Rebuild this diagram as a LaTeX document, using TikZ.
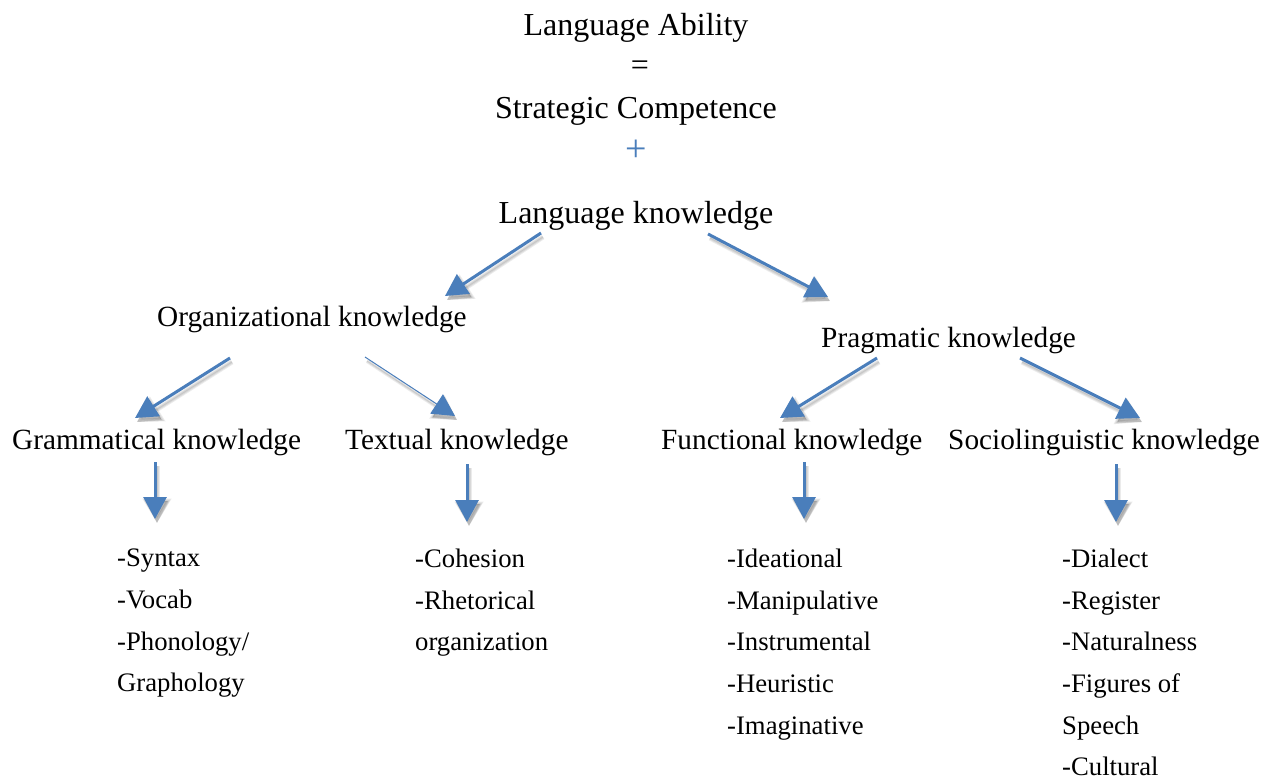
\documentclass[tikz,border=0pt]{standalone}
\usepackage{fontspec}
\setmainfont{Liberation Serif}
\usetikzlibrary{arrows.meta}
\definecolor{arrowblue}{HTML}{4A7EBB}
\begin{document}
\begin{tikzpicture}[x=1pt,y=-1pt,
  toptext/.style={anchor=base,inner sep=0pt,font=\fontsize{32}{36}\selectfont},
  midtext/.style={anchor=base west,inner sep=0pt,font=\fontsize{29.3}{34}\selectfont},
  listtext/.style={anchor=north west,inner sep=0pt,align=left,font=\fontsize{26.7}{41.6}\selectfont},
  shadowlayer/.style={draw=black,opacity=0.08,line width=#1,
      -{Triangle[width=23pt+#1,length=22pt+0.5*#1]},
      transform canvas={shift={(2pt,-4pt)}}},
  bluearrow/.style={draw=arrowblue,line width=3pt,-{Triangle[width=23pt,length=22pt]},
    preaction={shadowlayer=1pt},preaction={shadowlayer=3pt},preaction={shadowlayer=5pt}},
  thinarrow/.style={draw=arrowblue,line width=1pt,-{Triangle[width=23pt,length=22pt]},
    preaction={shadowlayer=0.5pt},preaction={shadowlayer=2pt},preaction={shadowlayer=4pt}}
]
\useasboundingbox (0,0) rectangle (1271,779);
\fill[white] (0,0) rectangle (1271,779);

\node[toptext] (ability) at (636,35) {Language Ability};
\node[toptext] (eq) at (640,75) {=};
\node[toptext] (strat) at (636,118) {Strategic Competence};
\node[toptext,text=arrowblue] (plus) at (636,161) {\fontsize{38}{40}\selectfont +};
\node[toptext] (lk) at (636,223) {Language knowledge};

\node[midtext] (org) at (157,326) {Organizational knowledge};
\node[midtext] (prag) at (821,347) {Pragmatic knowledge};

\node[midtext] (gram) at (12,449) {Grammatical knowledge};
\node[midtext] (text) at (345,449) {Textual knowledge};
\node[midtext] (func) at (661,449) {Functional knowledge};
\node[midtext] (socio) at (948,449) {Sociolinguistic knowledge};

\node[listtext] (gl) at (117,549) {-Syntax\\-Vocab\\-Phonology/\\Graphology};
\node[listtext] (tl) at (415,549) {-Cohesion\\-Rhetorical\\organization};
\node[listtext] (fl) at (727,549) {-Ideational\\-Manipulative\\-Instrumental\\-Heuristic\\-Imaginative};
\node[listtext] (sl) at (1062,549) {-Dialect\\-Register\\-Naturalness\\-Figures of\\Speech\\-Cultural};

\coordinate (a1s) at (541,233); \coordinate (a1e) at (445,296);
\coordinate (a2s) at (708,234); \coordinate (a2e) at (828,297);
\coordinate (a3s) at (230,358); \coordinate (a3e) at (135,418);
\coordinate (a4s) at (365,357); \coordinate (a4e) at (455,416);
\coordinate (a5s) at (877,358); \coordinate (a5e) at (780,418);
\coordinate (a6s) at (1020,358); \coordinate (a6e) at (1140,418);
\coordinate (v1s) at (155,462); \coordinate (v1e) at (155,519);
\coordinate (v2s) at (467,464); \coordinate (v2e) at (467,522);
\coordinate (v3s) at (804,462); \coordinate (v3e) at (804,519);
\coordinate (v4s) at (1116,464); \coordinate (v4e) at (1116,522);

\draw[bluearrow] (a1s) -- (a1e);
\draw[bluearrow] (a2s) -- (a2e);
\draw[bluearrow] (a3s) -- (a3e);
\draw[thinarrow] (a4s) -- (a4e);
\draw[bluearrow] (a5s) -- (a5e);
\draw[bluearrow] (a6s) -- (a6e);
\draw[bluearrow] (v1s) -- (v1e);
\draw[bluearrow] (v2s) -- (v2e);
\draw[bluearrow] (v3s) -- (v3e);
\draw[bluearrow] (v4s) -- (v4e);
\end{tikzpicture}
\end{document}
